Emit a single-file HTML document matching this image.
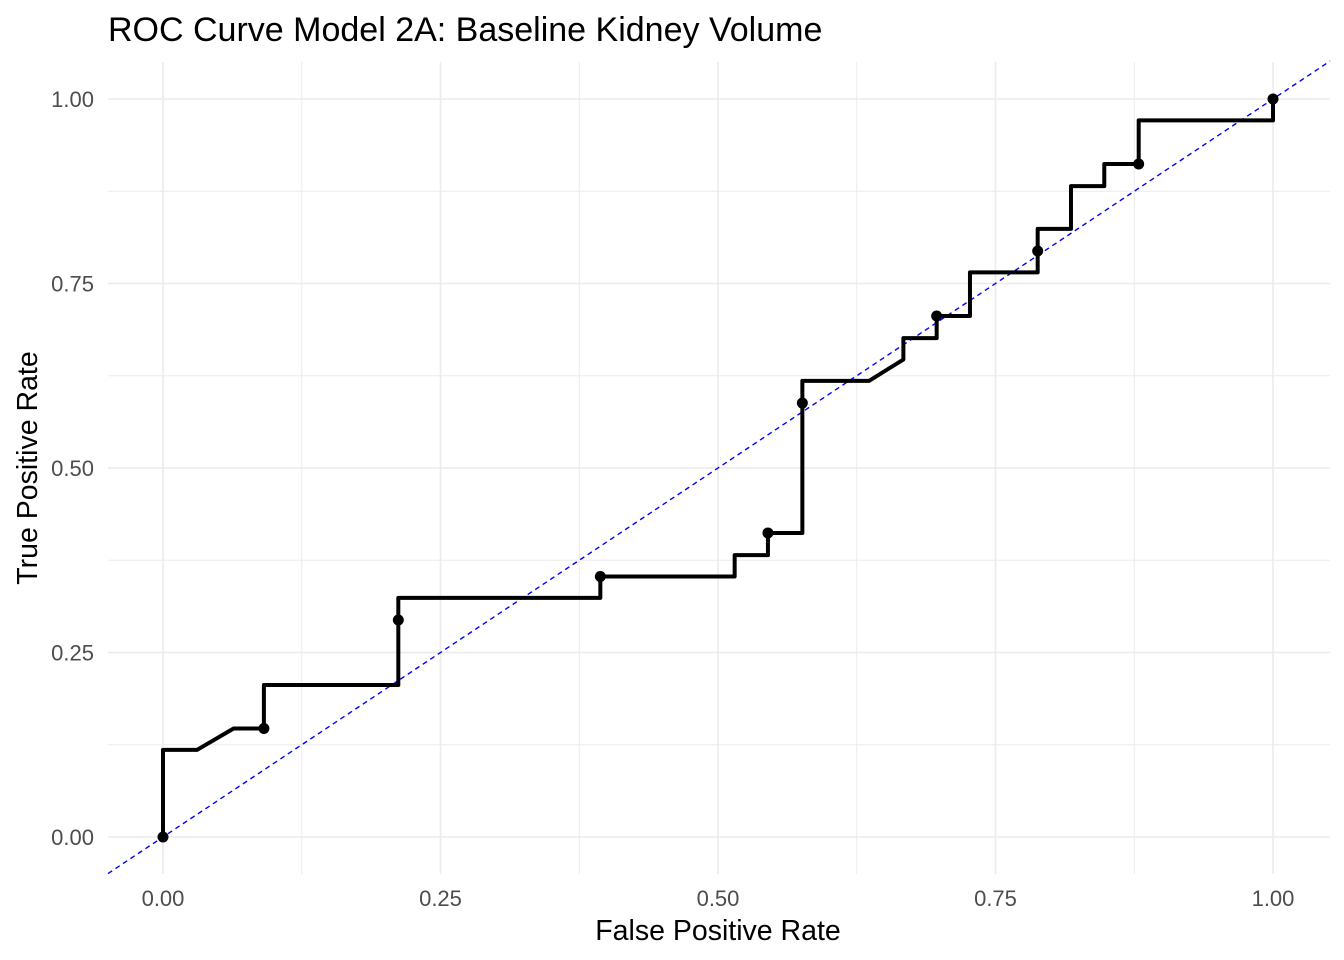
<!DOCTYPE html>
<html><head><meta charset="utf-8"><style>
body{margin:0;background:#fff;}
svg{display:block;font-family:"Liberation Sans",Arial,sans-serif;}
</style></head><body>
<svg id="chart" width="1344" height="960">
<text x="108" y="41" font-size="34" fill="#000">ROC Curve Model 2A: Baseline Kidney Volume</text>
<g id="grid"></g>
<g id="axes"></g>
<g id="marks"></g>
<text x="718" y="940" font-size="28.5" text-anchor="middle" fill="#000">False Positive Rate</text>
<text transform="translate(37,468) rotate(-90)" font-size="28.5" text-anchor="middle" fill="#000">True Positive Rate</text>
</svg>
<script>
const ticks = [0, 0.25, 0.5, 0.75, 1];
const tickLabels = ["0.00", "0.25", "0.50", "0.75", "1.00"];
const curveFpr = [0,0,0.0306,0.0636,0.0909,0.0909,0.212,0.212,0.394,0.394,0.515,0.515,0.545,0.545,0.576,0.576,0.636,0.667,0.667,0.697,0.697,0.727,0.727,0.788,0.788,0.818,0.818,0.848,0.848,0.879,0.879,1,1];
const curveTpr = [0,0.118,0.118,0.147,0.147,0.206,0.206,0.324,0.324,0.353,0.353,0.382,0.382,0.412,0.412,0.618,0.618,0.647,0.676,0.676,0.706,0.706,0.765,0.765,0.824,0.824,0.882,0.882,0.912,0.912,0.971,0.971,1];
const pointFpr = [0,0.0909,0.212,0.394,0.545,0.576,0.697,0.788,0.879,1];
const pointTpr = [0,0.147,0.294,0.353,0.412,0.588,0.706,0.794,0.912,1];

const NS="http://www.w3.org/2000/svg";
const L=108,R=1330,T=62,B=874;
const sx=v=>163+v*1110, sy=v=>837-v*738;
function mk(tag,attrs,parent){const e=document.createElementNS(NS,tag);for(const k in attrs)e.setAttribute(k,attrs[k]);parent.appendChild(e);return e;}
const grid=document.getElementById('grid'),axes=document.getElementById('axes'),marks=document.getElementById('marks');
for(let i=0;i<ticks.length-1;i++){
  const m=(ticks[i]+ticks[i+1])/2;
  let a=mk('line',{x1:sx(m),x2:sx(m),y1:T,y2:B,stroke:'#ebebeb','stroke-width':1},grid);
  
  
  let b=mk('line',{x1:L,x2:R,y1:sy(m),y2:sy(m),stroke:'#ebebeb','stroke-width':1},grid);
  
  
}
ticks.forEach((t,i)=>{
  let a=mk('line',{x1:sx(t),x2:sx(t),y1:T,y2:B,stroke:'#ebebeb','stroke-width':1.6},grid);
  
  
  let b=mk('line',{x1:L,x2:R,y1:sy(t),y2:sy(t),stroke:'#ebebeb','stroke-width':1.6},grid);
  
  
  let tx=mk('text',{x:sx(t),y:906,'font-size':22,fill:'#4d4d4d','text-anchor':'middle'},axes);
  tx.textContent=tickLabels[i];
  
  
  let ty=mk('text',{x:94,y:sy(t)+8,'font-size':22,fill:'#4d4d4d','text-anchor':'end'},axes);
  ty.textContent=tickLabels[i];
  
  
});
const x0=(L-163)/1110, x1=(R-163)/1110;
let d=mk('line',{x1:sx(x0),y1:sy(x0),x2:sx(x1),y2:sy(x1),stroke:'#0000ff','stroke-width':1.4,'stroke-dasharray':'5,4'},marks);


let p=curveFpr.map((v,i)=>sx(v)+','+sy(curveTpr[i])).join(' ');
let c=mk('polyline',{points:p,fill:'none',stroke:'#000','stroke-width':4,'stroke-linejoin':'round'},marks);


pointFpr.forEach((v,i)=>{
  let ci=mk('circle',{cx:sx(v),cy:sy(pointTpr[i]),r:5.5,fill:'#000'},marks);
  
  
});
</script>
</body></html>
